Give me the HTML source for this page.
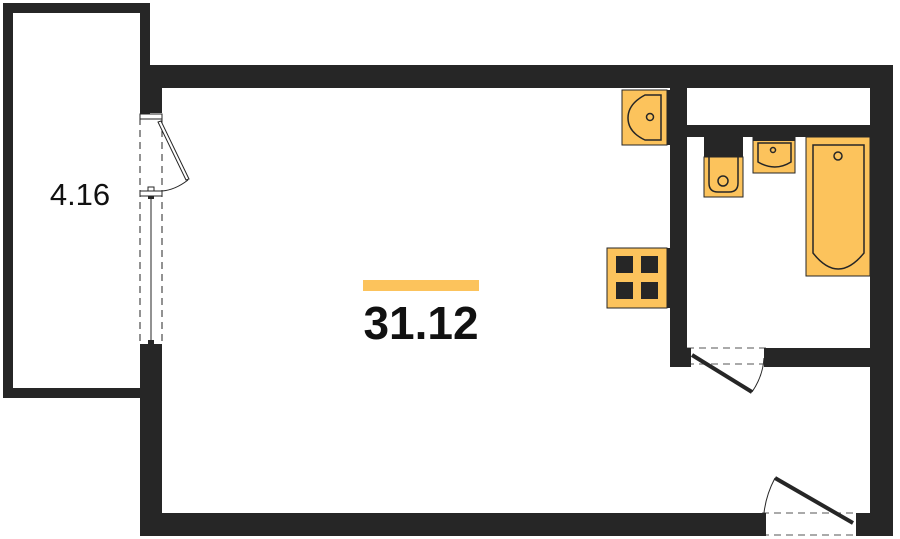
<!DOCTYPE html>
<html><head><meta charset="utf-8"><style>
html,body{margin:0;padding:0;background:#fff;}
svg{display:block}
</style></head><body>
<svg width="900" height="539" viewBox="0 0 900 539" xmlns="http://www.w3.org/2000/svg">
<rect width="900" height="539" fill="#fff"/>
<!-- balcony -->
<rect x="8" y="8" width="137" height="385" fill="none" stroke="#262626" stroke-width="10"/>
<rect x="140" y="115" width="22" height="233" fill="#fff"/>
<!-- main walls -->
<g fill="#262626">
<rect x="150" y="65" width="743" height="23"/>
<rect x="140" y="65" width="22" height="48"/>
<rect x="140" y="348" width="22" height="188"/>
<rect x="140" y="513" width="620" height="23"/>
<rect x="858" y="513" width="35" height="23"/>
<rect x="870" y="65" width="23" height="471"/>
<rect x="670" y="88" width="17" height="279"/>
<rect x="687" y="125" width="183" height="12"/>
<rect x="768" y="348" width="102" height="19"/>
</g>
<!-- balcony window/door -->
<g stroke="#262626" fill="none" stroke-width="1">
<line x1="140" y1="118" x2="140" y2="346" stroke-dasharray="7,5"/>
<line x1="162" y1="118" x2="162" y2="346" stroke-dasharray="7,5"/>
<rect x="140" y="114" width="22" height="5" fill="#fff"/>
<rect x="140" y="191" width="22" height="5" fill="#fff"/>
<rect x="148" y="187" width="6" height="4" fill="#fff"/>
<line x1="151" y1="196" x2="151" y2="343"/>
<path d="M158 122 L186 180 L189 179 L161 121 Z" fill="#fff"/>
<path d="M188 180 Q175 190 162 191"/>
</g>
<rect x="140" y="344" width="22" height="6" fill="#262626"/>
<rect x="148" y="340" width="6" height="5" fill="#262626"/>
<rect x="148" y="196" width="6" height="3" fill="#262626"/>
<!-- bathroom door -->
<g stroke="#777" stroke-dasharray="7,5" stroke-width="1.3">
<line x1="687" y1="348" x2="768" y2="348"/>
<line x1="687" y1="364" x2="768" y2="364"/>
<line x1="762" y1="513" x2="858" y2="513"/>
<line x1="762" y1="535" x2="858" y2="535"/>
</g>
<g fill="#262626">
<rect x="684" y="348" width="7" height="19"/>
<rect x="764" y="348" width="6" height="19"/>
<rect x="760" y="513" width="6" height="23"/>
<rect x="856" y="513" width="6" height="23"/>
</g>
<line x1="692" y1="355" x2="752" y2="392" stroke="#262626" stroke-width="4"/>
<path d="M752 392 Q763 376 764 358" fill="none" stroke="#262626" stroke-width="1"/>
<line x1="775" y1="478" x2="853" y2="523" stroke="#262626" stroke-width="4"/>
<path d="M775 478 Q766 495 764 513" fill="none" stroke="#262626" stroke-width="1"/>
<!-- fixtures -->
<g fill="#fcc35c" stroke="#262626" stroke-width="1">
<rect x="622" y="90" width="45" height="55"/>
<rect x="607" y="248" width="60" height="60"/>
<rect x="704" y="157" width="39" height="40"/>
<rect x="753" y="137" width="42" height="36"/>
<rect x="806" y="137" width="64" height="139"/>
</g>
<rect x="667" y="90" width="4" height="55" fill="#262626"/>
<rect x="667" y="248" width="4" height="60" fill="#262626"/>
<g fill="none" stroke="#262626" stroke-width="1.5">
<path d="M661 95 L645 95 Q628 104 628 118 Q628 132 645 140 L661 140 Z"/>
<circle cx="650" cy="117" r="3.5"/>
<path d="M709 157 L709 183 Q709 192 718 192 L729 192 Q738 192 738 183 L738 157"/>
<circle cx="723" cy="181" r="5"/>
<path d="M758 143 L791 143 L791 162 Q775 172 758 162 Z"/>
<circle cx="773" cy="150" r="2.5"/>
<path d="M813 145 L864 145 L864 253 Q838 285 813 253 Z"/>
<circle cx="838" cy="156" r="4"/>
</g>
<rect x="704" y="137" width="39" height="20" fill="#262626"/>
<rect x="753" y="137" width="42" height="4" fill="#262626"/>
<g fill="#262626">
<rect x="616" y="256" width="17" height="17"/>
<rect x="641" y="256" width="17" height="17"/>
<rect x="616" y="282" width="17" height="17"/>
<rect x="641" y="282" width="17" height="17"/>
</g>
<!-- labels -->
<rect x="363" y="280" width="116" height="11" fill="#fcc35c"/>
<text x="421" y="339" text-anchor="middle" font-family="Liberation Sans, sans-serif" font-weight="bold" font-size="46" fill="#111">31.12</text>
<text x="80" y="205" text-anchor="middle" font-family="Liberation Sans, sans-serif" font-size="31" fill="#111">4.16</text>
</svg>
</body></html>
